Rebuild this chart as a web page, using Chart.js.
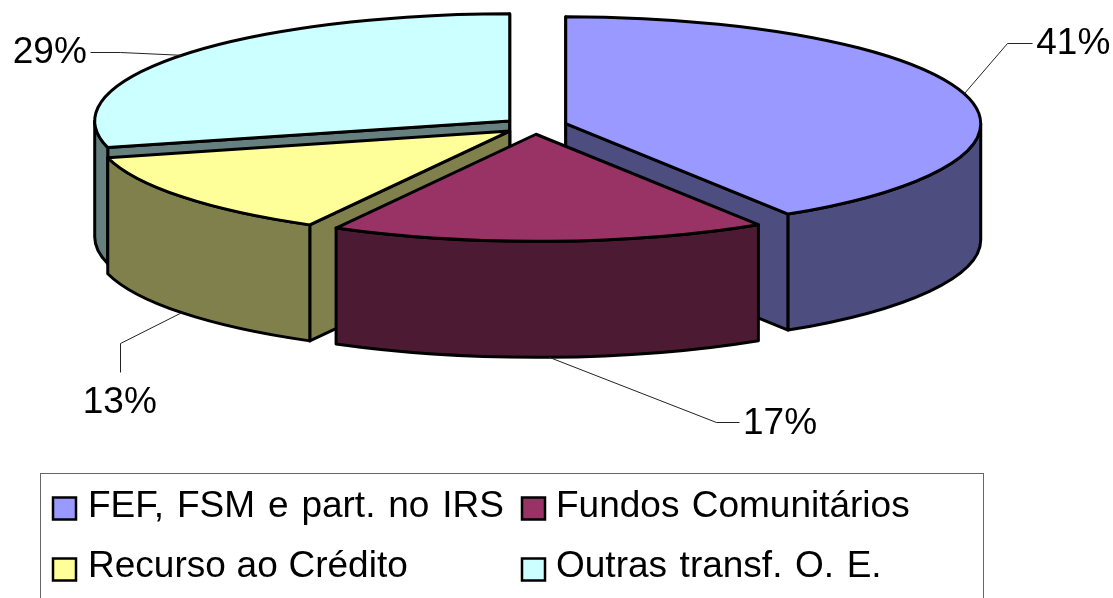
<!DOCTYPE html>
<html>
<head>
<meta charset="utf-8">
<style>
html,body{margin:0;padding:0;background:#fff;overflow:hidden}
#wrap{width:1113px;height:598px}
canvas{display:block}
</style>
<script src="https://cdn.jsdelivr.net/npm/chart.js@4/dist/chart.umd.min.js"></script>
</head>
<body>
<div id="wrap"><canvas id="c" width="1113" height="598"></canvas></div>
<script>
const categories = ['FEF, FSM e part. no IRS', 'Fundos Comunitários', 'Recurso ao Crédito', 'Outras transf. O. E.'];
const values = [41, 17, 13, 29];
const topColors = ['#9999ff', '#993366', '#ffff99', '#ccffff'];
const wallColors = ['#4d4d80', '#4d1a33', '#80804d', '#668080'];

const SQUASH = 0.258, DEPTH = 116, CY = 126, EXPLODE = 32, FONT = '37px "Liberation Sans", Arial, sans-serif';
const paintOrder = [3, 0, 2, 1];
const legendWordSpacing = ['2.6px', '2px', '0.5px', '2.3px'];
// label placement relative to each slice's leader anchor: elbow, end, text x, baseline, align
const labelLayout = [
  {elbow:[43,-51], end:[68,-51], text:[72,-40], align:'left'},
  {elbow:[167,65], end:[190,65], text:[194,77], align:'left'},
  {elbow:[-62,30], end:[-62,59], text:[-62,100], align:'center'},
  {elbow:[-62,-3], end:[-92,-3], text:[-95,8], align:'right'}
];

function geom(el) {
  const p = el.getProps(['x','y','startAngle','endAngle','outerRadius'], true);
  const mid = (p.startAngle + p.endAngle) / 2;
  const ox = p.x + EXPLODE * Math.cos(mid), oy = CY + SQUASH * EXPLODE * Math.sin(mid);
  return {cx: ox, cy: oy, r: p.outerRadius, a0: p.startAngle, a1: p.endAngle, mid, y0: p.y, dx: EXPLODE * Math.cos(mid), dy: EXPLODE * Math.sin(mid)};
}
const px = (g, a) => g.cx + g.r * Math.cos(a);
const py = (g, a) => g.cy + g.r * SQUASH * Math.sin(a);

const pie3d = {
  id: 'pie3d',
  beforeDatasetsDraw(chart) {
    const ctx = chart.ctx, els = chart.getDatasetMeta(0).data;
    ctx.save();
    ctx.lineWidth = 3; ctx.lineJoin = 'round'; ctx.strokeStyle = '#000';
    paintOrder.forEach(i => {
      const g = geom(els[i]);
      ctx.fillStyle = wallColors[i];
      [[g.a0, -Math.cos(g.a0)], [g.a1, Math.cos(g.a1)]].forEach(([a, facing]) => {
        if (facing < -1e-6) return;
        ctx.beginPath();
        ctx.moveTo(g.cx, g.cy);
        ctx.lineTo(px(g,a), py(g,a));
        ctx.lineTo(px(g,a), py(g,a)+DEPTH);
        ctx.lineTo(g.cx, g.cy+DEPTH);
        ctx.closePath(); ctx.fill(); ctx.stroke();
      });
      // outer wall: front half of the rim only
      const ranges = [[g.a0, g.a1], [g.a0 + 2*Math.PI, g.a1 + 2*Math.PI]];
      ranges.forEach(([s, e]) => {
        const b0 = Math.max(s, 0), b1 = Math.min(e, Math.PI);
        if (b1 <= b0) return;
        ctx.beginPath();
        ctx.ellipse(g.cx, g.cy, g.r, g.r*SQUASH, 0, b0, b1);
        ctx.lineTo(px(g,b1), py(g,b1)+DEPTH);
        ctx.ellipse(g.cx, g.cy+DEPTH, g.r, g.r*SQUASH, 0, b1, b0, true);
        ctx.closePath(); ctx.fill(); ctx.stroke();
      });
    });
    ctx.restore();
  },
  beforeDatasetDraw(chart) {
    // the library's own arcs, squashed into tilted top faces and pulled apart
    const ctx = chart.ctx;
    chart.getDatasetMeta(0).data.forEach(el => {
      const g = geom(el);
      ctx.save();
      ctx.translate(g.dx, CY + g.dy * SQUASH);
      ctx.scale(1, SQUASH);
      ctx.translate(0, -g.y0);
      el.draw(ctx);
      ctx.restore();
    });
    return false;
  },
  afterDatasetsDraw(chart) {
    const ctx = chart.ctx, els = chart.getDatasetMeta(0).data;
    ctx.save();
    ctx.lineWidth = 3; ctx.lineJoin = 'round'; ctx.strokeStyle = '#000';
    els.forEach((el) => {
      const g = geom(el);
      ctx.beginPath();
      ctx.moveTo(g.cx, g.cy);
      ctx.ellipse(g.cx, g.cy, g.r, g.r*SQUASH, 0, g.a0, g.a1);
      ctx.closePath(); ctx.stroke();
    });
    // leader lines and percentage labels
    ctx.font = FONT; ctx.textBaseline = 'alphabetic'; ctx.fillStyle = '#000';
    els.forEach((el, i) => {
      const g = geom(el), L = labelLayout[i];
      const ax = px(g, g.mid);
      const ay = py(g, g.mid) + (Math.sin(g.mid) > 0 ? DEPTH : 0);
      ctx.beginPath();
      ctx.lineWidth = 1; ctx.strokeStyle = '#222';
      ctx.moveTo(ax, ay);
      ctx.lineTo(Math.round(ax+L.elbow[0])+.5, Math.round(ay+L.elbow[1])+.5);
      ctx.lineTo(Math.round(ax+L.end[0])+.5, Math.round(ay+L.end[1])+.5);
      ctx.stroke();
      ctx.textAlign = L.align;
      ctx.fillText(values[i] + '%', ax+L.text[0], ay+L.text[1]);
    });
    ctx.restore();
  },
  afterDraw(chart) {
    const ctx = chart.ctx;
    ctx.save();
    ctx.strokeStyle = '#666'; ctx.lineWidth = 1;
    ctx.strokeRect(40.5, 473.5, 943, 160);
    const cols = [53, 522], textCols = [88, 556], rows = [497.5, 558.5], bases = [517, 577];
    ctx.font = FONT; ctx.textBaseline = 'alphabetic'; ctx.textAlign = 'left';
    categories.forEach((name, i) => {
      const c = i % 2, r = i >> 1;
      ctx.wordSpacing = legendWordSpacing[i];
      ctx.fillStyle = topColors[i];
      ctx.strokeStyle = '#000'; ctx.lineWidth = 2.5;
      ctx.fillRect(cols[c], rows[r], 23, 22);
      ctx.strokeRect(cols[c], rows[r], 23, 22);
      ctx.fillStyle = '#000';
      ctx.fillText(name, textCols[c], bases[r]);
    });
    ctx.restore();
  }
};

new Chart(document.getElementById('c'), {
  type: 'pie',
  data: {
    labels: categories,
    datasets: [{
      data: values,
      backgroundColor: topColors,
      borderWidth: 0,
      offset: 0,
      radius: 415,
      clip: false
    }]
  },
  options: {
    responsive: false,
    animation: false,
    layout: {padding: {right: 43}},
    events: [],
    plugins: {legend: {display: false}, tooltip: {enabled: false}, title: {display: false}}
  },
  plugins: [pie3d]
});
</script>
</body>
</html>
